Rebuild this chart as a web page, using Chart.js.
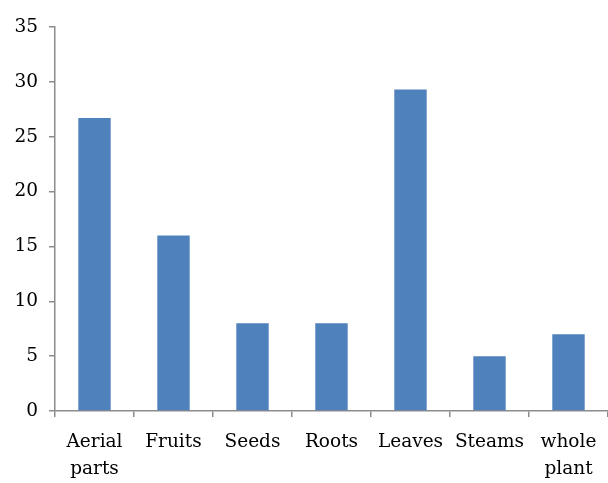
<!DOCTYPE html>
<html>
<head>
<meta charset="utf-8">
<script src="https://cdn.jsdelivr.net/npm/chart.js@4/dist/chart.umd.min.js"></script>
<style>
  html, body { margin: 0; padding: 0; background: #fff; }
  #wrap { width: 608px; height: 483px; }
</style>
</head>
<body>
<div id="wrap"><canvas id="c" width="608" height="483"></canvas></div>
<script>
// Plant parts and their counts
const categories = [['Aerial', 'parts'], 'Fruits', 'Seeds', 'Roots', 'Leaves', 'Steams', ['whole', 'plant']];
const counts = [26.7, 16, 8, 8, 29.3, 5, 7];
const yTicks = [0, 5, 10, 15, 20, 25, 30, 35];

const axisColor = '#8c8c8c';
const font = { family: 'DejaVu Serif', size: 18.5, lineHeight: 1.5 };

new Chart(document.getElementById('c'), {
  type: 'bar',
  data: {
    labels: categories,
    datasets: [{
      data: counts,
      backgroundColor: '#4f81bd',
      borderWidth: 0,
      barPercentage: 0.41,
      categoryPercentage: 1.0
    }]
  },
  options: {
    responsive: false,
    animation: false,
    layout: { padding: { top: 27, right: 0, left: 0, bottom: 0 } },
    plugins: { legend: { display: false }, tooltip: { enabled: false } },
    scales: {
      x: {
        offset: true,
        grid: {
          offset: true,
          drawOnChartArea: false,
          drawTicks: true,
          tickLength: 6,
          color: axisColor,
          lineWidth: 1.5
        },
        border: { color: axisColor, width: 1.5 },
        ticks: { color: '#000', font: font, padding: 11, maxRotation: 0, autoSkip: false },
        afterFit: s => { s.height = 72; }
      },
      y: {
        min: 0,
        max: 35,
        afterBuildTicks: s => { s.ticks = yTicks.map(v => ({ value: v })); },
        grid: {
          drawOnChartArea: false,
          drawTicks: true,
          tickLength: 6,
          color: axisColor,
          lineWidth: 1.5
        },
        border: { color: axisColor, width: 1.5 },
        ticks: { color: '#000', font: { family: 'DejaVu Serif', size: 18.5 }, padding: 11 },
        afterFit: s => { s.width = 55; }
      }
    }
  }
});
</script>
</body>
</html>
